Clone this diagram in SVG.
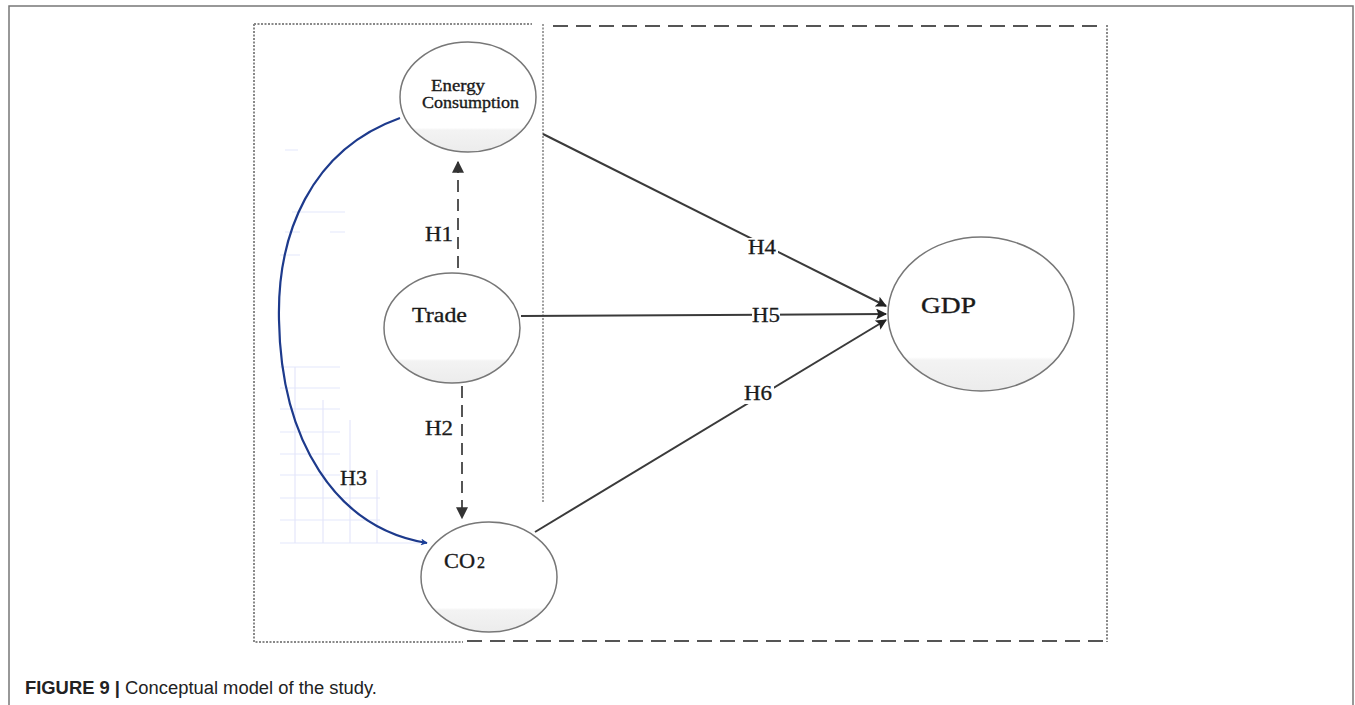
<svg xmlns="http://www.w3.org/2000/svg" width="1355" height="705" viewBox="0 0 1355 705">
<style>
.node{stroke:#777;stroke-width:1.5;fill:url(#eg)}
.nt{font-family:"Liberation Serif",serif;fill:#1a1a1a;stroke:#1a1a1a;stroke-width:0.35}
.hl{font-family:"Liberation Serif",serif;font-size:20px;fill:#1a1a1a;stroke:#1a1a1a;stroke-width:0.3}
.dot{fill:none;stroke:#888;stroke-width:2;stroke-dasharray:2 1.5}
.dash{fill:none;stroke:#555;stroke-width:2.2;stroke-dasharray:15 8}
.grid{stroke:#e4e7fb;stroke-width:1.2;fill:none}
.solid{stroke:#3a3a3a;stroke-width:2;fill:none}
</style>
<defs>
<linearGradient id="eg" x1="0" y1="0" x2="0" y2="1">
<stop offset="0" stop-color="#ffffff"/>
<stop offset="0.78" stop-color="#ffffff"/>
<stop offset="0.8" stop-color="#f3f3f3"/>
<stop offset="1" stop-color="#ececec"/>
</linearGradient>
<marker id="ag" viewBox="0 0 10 10" refX="9" refY="5" markerWidth="6" markerHeight="7" orient="auto" markerUnits="strokeWidth">
<path d="M0,0 L10,5 L0,10 z" fill="#333"/>
</marker>
<marker id="ad" viewBox="0 0 10 10" refX="9" refY="5" markerWidth="14" markerHeight="11" orient="auto" markerUnits="userSpaceOnUse">
<path d="M0,0 L10,5 L0,10 L2,5 z" fill="#222"/>
</marker>
<marker id="ab" viewBox="0 0 10 10" refX="9" refY="5" markerWidth="11" markerHeight="7" orient="auto" markerUnits="userSpaceOnUse">
<path d="M0,0 L10,5 L0,10 L3,5 z" fill="#1a3f9a"/>
</marker>
</defs>
<rect width="1355" height="705" fill="#fff"/>
<!-- outer figure frame -->
<path d="M9,705 V6 H1353 V705" fill="none" stroke="#777" stroke-width="1.5"/>
<!-- faint scan grid -->
<g id="grid">
<path class="grid" d="M280,367 H340 M280,388 H340 M280,409 H340 M280,432 H340 M280,454 H340 M280,475 H340 M280,498 H380 M280,520 H380 M280,543 H420 M295,367 V543 M323,400 V543 M350,420 V543 M377,470 V543"/>
<path class="grid" d="M285,150 H298 M292,212 H345 M285,232 H300 M330,232 H345 M280,255 H300"/>
</g>
<!-- inner frames -->
<g id="frame">
<path class="dot" d="M254,24 H532"/>
<path class="dot" d="M254,24 V642 H463"/>
<path class="dot" d="M543,24 V503" style="stroke-width:1.6"/>
<path class="dash" d="M553,26 H1100"/>
<path class="dot" d="M1107,25 V642"/>
<path class="dash" d="M467,641 H1103"/>
</g>
<!-- connectors -->
<g id="connectors">
<path d="M458,268 V162" class="solid" style="stroke:#555;stroke-dasharray:12 7" marker-end="url(#ag)"/>
<path d="M462,386 V518" class="solid" style="stroke:#555;stroke-dasharray:12 7" marker-end="url(#ag)"/>
<path d="M400,118 C310,150 277,235 279,320 C281,440 335,528 427,543" fill="none" stroke="#1d3a8c" stroke-width="2.2" marker-end="url(#ab)"/>
<path d="M543,134 L886,306" class="solid" marker-end="url(#ad)"/>
<path d="M521,316 L886,314" class="solid" marker-end="url(#ad)"/>
<path d="M535,532 L886,320" class="solid" marker-end="url(#ad)"/>
<rect x="746" y="238" width="32" height="20" fill="#fff"/>
<rect x="752" y="306" width="28" height="18" fill="#fff"/>
<rect x="742" y="384" width="32" height="20" fill="#fff"/>
<text class="hl" x="425" y="241" textLength="28" lengthAdjust="spacingAndGlyphs">H1</text>
<text class="hl" x="425" y="435" textLength="28" lengthAdjust="spacingAndGlyphs">H2</text>
<text class="hl" x="340" y="485" textLength="27" lengthAdjust="spacingAndGlyphs">H3</text>
<text class="hl" x="748" y="254" textLength="28" lengthAdjust="spacingAndGlyphs">H4</text>
<text class="hl" x="752" y="322" textLength="28" lengthAdjust="spacingAndGlyphs">H5</text>
<text class="hl" x="744" y="400" textLength="28" lengthAdjust="spacingAndGlyphs">H6</text>
</g>
<!-- nodes -->
<g id="energy">
<ellipse class="node" cx="468" cy="97" rx="68" ry="55"/>
<text class="nt" x="431" y="91" font-size="17" textLength="54" lengthAdjust="spacingAndGlyphs">Energy</text>
<text class="nt" x="422" y="108" font-size="17" textLength="97" lengthAdjust="spacingAndGlyphs">Consumption</text>
</g>
<g id="trade">
<ellipse class="node" cx="452" cy="328" rx="68" ry="55"/>
<text class="nt" x="412" y="322" font-size="21" textLength="55" lengthAdjust="spacingAndGlyphs">Trade</text>
</g>
<g id="co2">
<ellipse class="node" cx="489" cy="577" rx="68" ry="55"/>
<text class="nt" x="444" y="568" font-size="21" textLength="31" lengthAdjust="spacingAndGlyphs">CO</text>
<text class="nt" x="477" y="568" font-size="16">2</text>
</g>
<g id="gdp">
<ellipse class="node" cx="981" cy="314" rx="93" ry="77"/>
<text class="nt" x="921" y="313" font-size="23" textLength="55" lengthAdjust="spacingAndGlyphs">GDP</text>
</g>
<!-- caption -->
<text x="25" y="694" font-family="'Liberation Sans',Arial,sans-serif" font-size="18" fill="#222" textLength="352" lengthAdjust="spacingAndGlyphs"><tspan font-weight="bold">FIGURE 9 |</tspan> Conceptual model of the study.</text>
</svg>
